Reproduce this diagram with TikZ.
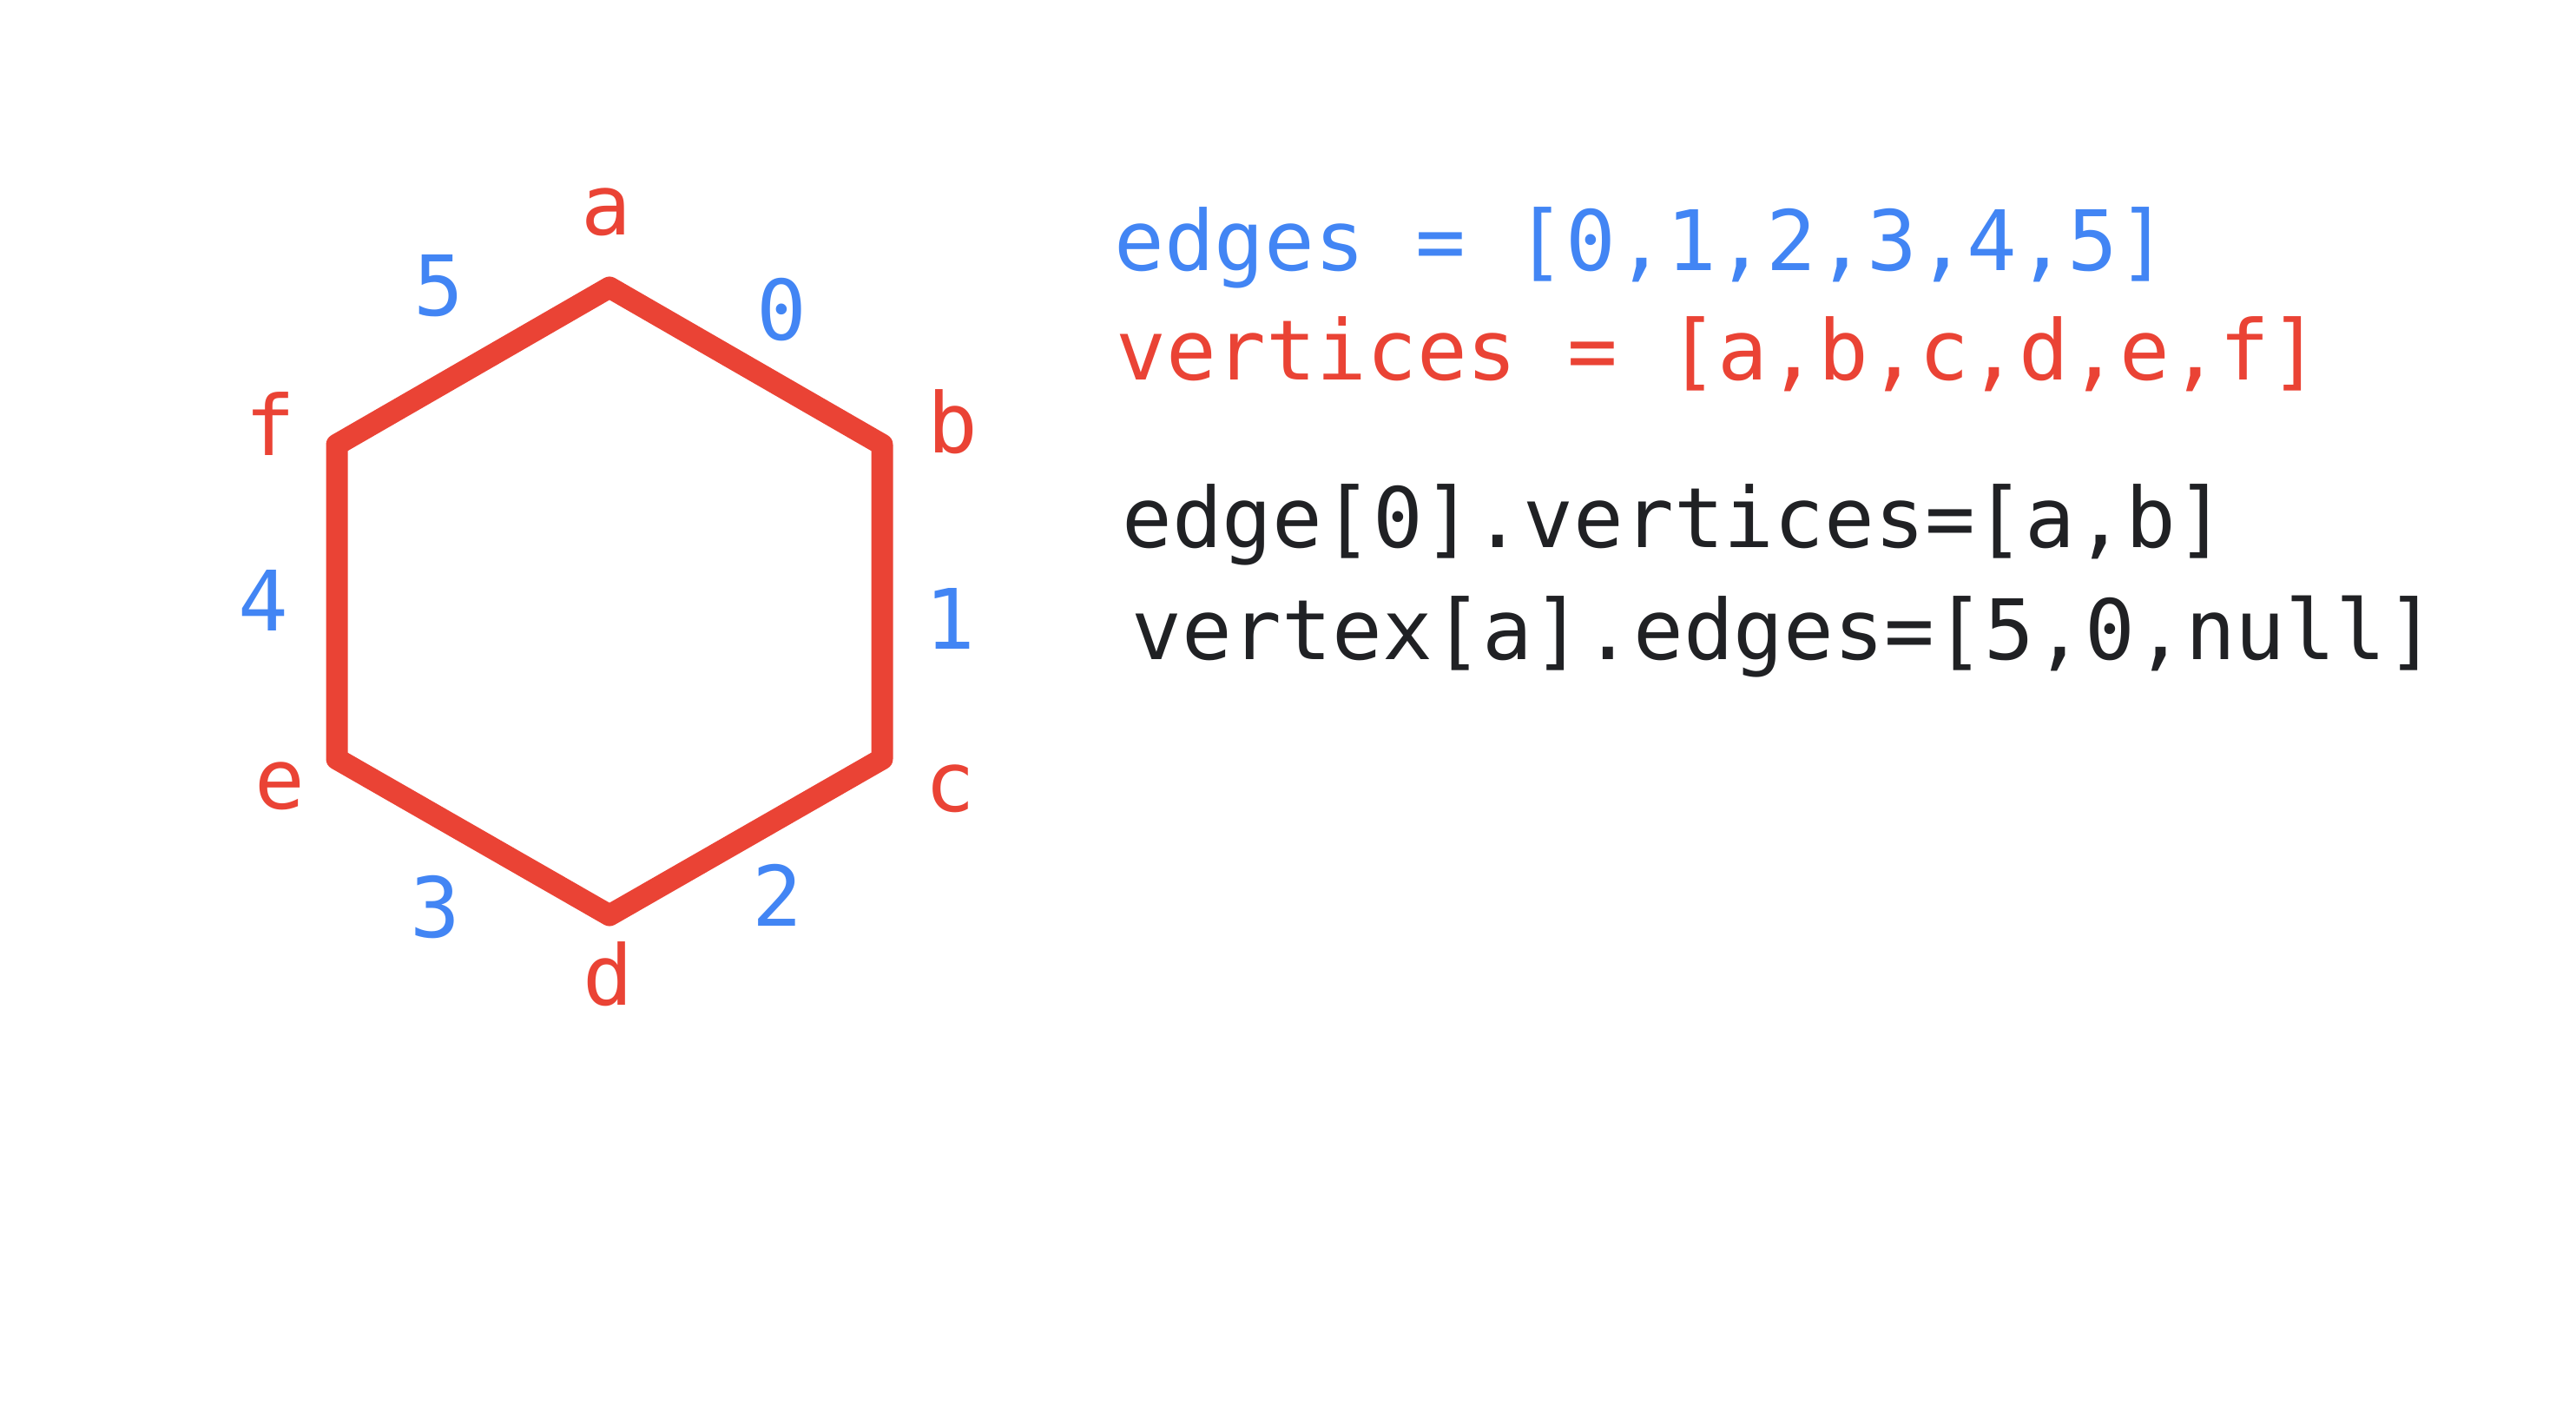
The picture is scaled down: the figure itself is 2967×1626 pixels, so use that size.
\documentclass[tikz,border=0pt]{standalone}
\usepackage{fontspec}
\setmonofont{DejaVu Sans Mono}
\definecolor{hexred}{HTML}{EA4335}
\definecolor{hexblue}{HTML}{4285F4}
\definecolor{codeblack}{HTML}{202124}
\begin{document}
\begin{tikzpicture}[x=0.5pt,y=-0.5pt,
  monofont/.style={font=\ttfamily\fontsize{48}{57}\selectfont},
  vlabel/.style={monofont, text=hexred, inner sep=0pt},
  elabel/.style={monofont, text=hexblue, inner sep=0pt},
  codeline/.style={monofont, anchor=base west, inner sep=0pt},
  hexline/.style={draw=hexred, line width=12.5pt, line join=round}
]
\useasboundingbox (0,0) rectangle (2967,1626);
% hexagon corners
\coordinate (a) at (702,331);
\coordinate (b) at (1016,512);
\coordinate (c) at (1016,874);
\coordinate (d) at (702,1054);
\coordinate (e) at (388,874);
\coordinate (f) at (388,512);
\draw[hexline] (a) -- (b) -- (c) -- (d) -- (e) -- (f) -- cycle;
% vertex labels
\node[vlabel] (la) at (698,244) {a};
\node[vlabel] (lb) at (1097,486) {b};
\node[vlabel] (lc) at (1094,908) {c};
\node[vlabel] (ld) at (700,1122) {d};
\node[vlabel] (le) at (322,905) {e};
\node[vlabel] (lf) at (311,488) {f};
% edge labels
\node[elabel] (l0) at (900,357) {0};
\node[elabel] (l1) at (1094,713) {1};
\node[elabel] (l2) at (895,1031) {2};
\node[elabel] (l3) at (501,1045) {3};
\node[elabel] (l4) at (303,692) {4};
\node[elabel] (l5) at (505,329) {5};
% code lines
\node[codeline, text=hexblue] (c1) at (1283,312) {edges = [0,1,2,3,4,5]};
\node[codeline, text=hexred] (c2) at (1285,438) {vertices = [a,b,c,d,e,f]};
\node[codeline, text=codeblack] (c3) at (1292,630) {edge[0].vertices=[a,b]};
\node[codeline, text=codeblack] (c4) at (1303,759) {vertex[a].edges=[5,0,null]};
\end{tikzpicture}
\end{document}
